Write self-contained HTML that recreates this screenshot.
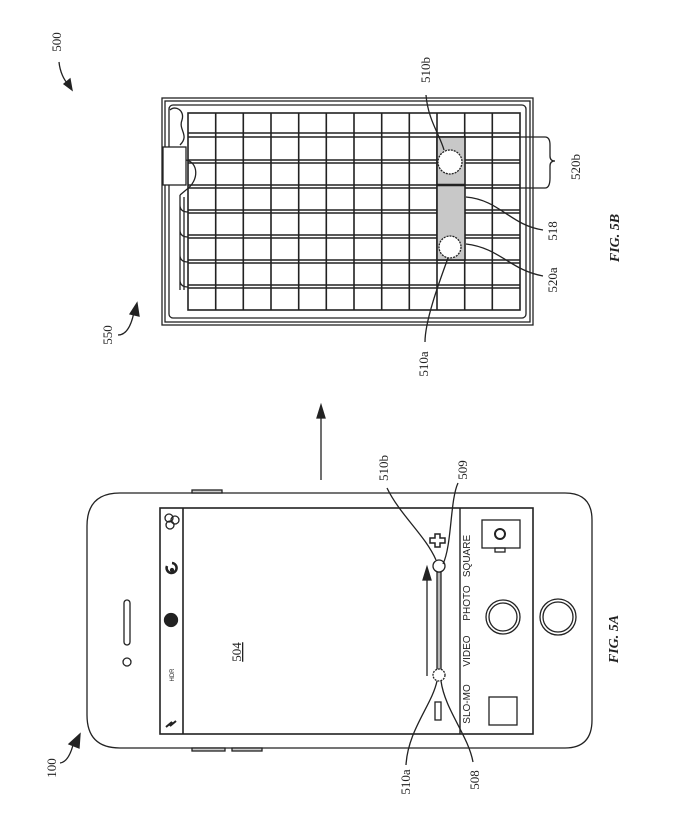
<!DOCTYPE html>
<html><head><meta charset="utf-8"><style>
html,body{margin:0;padding:0;background:#fff;}
svg{display:block;}
text{font-family:"Liberation Serif",serif;fill:#222;}
.s{font-family:"Liberation Sans",sans-serif;}
</style></head><body>
<svg width="700" height="831" viewBox="0 0 700 831" xmlns="http://www.w3.org/2000/svg" fill="none" stroke="#222" stroke-width="1.3">
<!-- FIG 5B -->
<rect x="162" y="98" width="371" height="227"/>
<rect x="165" y="101" width="365" height="221"/>
<rect x="169" y="105" width="357" height="213" rx="4"/>
<g stroke-width="1.6">
<rect x="188" y="113" width="332" height="197"/>
<line x1="215.7" y1="113" x2="215.7" y2="310"/><line x1="243.3" y1="113" x2="243.3" y2="310"/>
<line x1="271" y1="113" x2="271" y2="310"/><line x1="298.7" y1="113" x2="298.7" y2="310"/>
<line x1="326.3" y1="113" x2="326.3" y2="310"/><line x1="354" y1="113" x2="354" y2="310"/>
<line x1="381.7" y1="113" x2="381.7" y2="310"/><line x1="409.3" y1="113" x2="409.3" y2="310"/>
<line x1="437" y1="113" x2="437" y2="310"/><line x1="464.7" y1="113" x2="464.7" y2="310"/>
<line x1="492.3" y1="113" x2="492.3" y2="310"/>
<line x1="188" y1="133" x2="520" y2="133"/><line x1="188" y1="137" x2="520" y2="137"/>
<line x1="188" y1="160" x2="520" y2="160"/><line x1="188" y1="163" x2="520" y2="163"/>
<line x1="188" y1="185" x2="520" y2="185"/><line x1="188" y1="188" x2="520" y2="188"/>
<line x1="188" y1="210" x2="520" y2="210"/><line x1="188" y1="213" x2="520" y2="213"/>
<line x1="188" y1="235" x2="520" y2="235"/><line x1="188" y1="238" x2="520" y2="238"/>
<line x1="188" y1="260" x2="520" y2="260"/><line x1="188" y1="263" x2="520" y2="263"/>
<line x1="188" y1="285" x2="520" y2="285"/><line x1="188" y1="288" x2="520" y2="288"/>
</g>
<rect x="437" y="137" width="28" height="123" fill="#c8c8c8" stroke="#222" stroke-width="1.6"/>
<line x1="437" y1="185" x2="465" y2="185" stroke-width="2.5"/>
<circle cx="450" cy="162" r="12" fill="#fff" stroke-dasharray="2 1"/>
<circle cx="450" cy="247" r="11" fill="#fff" stroke-dasharray="2 1"/>
<!-- tray / connector -->
<rect x="163" y="147" width="23" height="38" fill="#fff"/>
<path d="M170 110 C175 105 185 110 182 120 C178 130 190 135 180 145" />
<path d="M186 160 C198 162 200 180 186 190 L180 195"/>
<path d="M180 195 L180 290 M180 205 Q180 212 188 212 M180 230 Q180 237 188 237 M180 255 Q180 262 188 262 M180 280 Q180 287 188 287"/>
<path d="M184 197 L184 290"/>
<!-- brace 520b -->
<path d="M465 137 L545 137 Q550 137 550 145 L550 156 Q550 161 555 161 Q550 161 550 166 L550 178 Q550 188 545 188 L465 188"/>
<!-- leaders -->
<path d="M426 95 C428 120 440 135 444 150"/>
<path d="M425 342 C425 320 440 280 448 258"/>
<path d="M466 197 C500 200 510 225 543 230"/>
<path d="M466 244 C500 248 510 270 543 276"/>
<path d="M59 62 C60 72 64 80 68 84"/><path d="M64 84 L72 90 L70 79 Z" fill="#222"/>
<path d="M118 335 C128 335 132 322 134 312"/><path d="M130 314 L137 303 L139 316 Z" fill="#222"/>
<!-- big arrow -->
<line x1="321" y1="480" x2="321" y2="416"/><path d="M317 418 L321 405 L325 418 Z" fill="#222"/>
<g stroke="none">
<text transform="translate(61,42) rotate(-90)" text-anchor="middle" font-size="13">500</text>
<text transform="translate(112,335) rotate(-90)" text-anchor="middle" font-size="13">550</text>
<text transform="translate(430,70) rotate(-90)" text-anchor="middle" font-size="13">510b</text>
<text transform="translate(428,364) rotate(-90)" text-anchor="middle" font-size="13">510a</text>
<text transform="translate(557,231) rotate(-90)" text-anchor="middle" font-size="13">518</text>
<text transform="translate(557,280) rotate(-90)" text-anchor="middle" font-size="13">520a</text>
<text transform="translate(580,167) rotate(-90)" text-anchor="middle" font-size="13">520b</text>
<text transform="translate(619,238) rotate(-90)" text-anchor="middle" font-size="14" font-style="italic" font-weight="bold">FIG. 5B</text>
</g>
<!-- FIG 5A phone -->
<path d="M120 493 L565 493 Q592 493 592 520 L592 720 Q592 748 565 748 L120 748 Q87 748 87 715 L87 526 Q87 493 120 493 Z"/>
<rect x="192" y="490" width="30" height="3" fill="#ccc"/>
<rect x="192" y="748" width="33" height="3" fill="#ccc"/>
<rect x="232" y="748" width="30" height="3" fill="#ccc"/>
<rect x="124" y="600" width="6" height="45" rx="3"/>
<circle cx="127" cy="662" r="4"/>
<rect x="160" y="508" width="373" height="226" stroke-width="1.6"/>
<line x1="183" y1="508" x2="183" y2="734" stroke-width="1.6"/>
<line x1="460" y1="508" x2="460" y2="734" stroke-width="1.4"/>
<!-- status icons -->
<circle cx="169" cy="518" r="4"/><circle cx="175" cy="520" r="4"/><circle cx="170" cy="525" r="4"/>
<path d="M167 566 A5 5 0 1 0 172 563" stroke-width="2.5"/><circle cx="172" cy="570" r="1.5" fill="#222"/>
<circle cx="171" cy="620" r="6.5" fill="#222"/>
<text transform="translate(174,675) rotate(-90)" text-anchor="middle" font-size="6" class="s" stroke="none" fill="#222">HDR</text>
<path d="M166 727 L172 722 L170 726 L176 721" stroke-width="2"/>
<!-- slider -->
<rect x="437" y="572" width="4" height="98" fill="#bbb"/>
<circle cx="439" cy="566" r="6" fill="#fff"/>
<circle cx="439" cy="675" r="6" fill="#fff" stroke-dasharray="2 1"/>
<rect x="435" y="702" width="6" height="18"/>
<path d="M435 534 h5 v4 h5 v5 h-5 v4 h-5 v-4 h-5 v-5 h5 z" stroke-width="1.5"/>
<line x1="427" y1="676" x2="427" y2="578"/><path d="M423 580 L427 567 L431 580 Z" fill="#222"/>
<!-- bottom controls -->
<rect x="482" y="520" width="38" height="28"/><rect x="495" y="548" width="10" height="4"/>
<circle cx="500" cy="534" r="5" stroke-width="2"/>
<circle cx="503" cy="617" r="17"/><circle cx="503" cy="617" r="14"/>
<circle cx="558" cy="617" r="18"/><circle cx="558" cy="617" r="15"/>
<rect x="489" y="697" width="28" height="28"/>
<!-- leaders -->
<path d="M387 488 C400 515 425 535 436 560"/>
<path d="M458 483 C450 500 452 545 443 564"/>
<path d="M406 765 C408 730 432 705 437 681"/>
<path d="M473 762 C468 735 445 710 441 681"/>
<path d="M60 763 C68 762 72 750 74 741"/><path d="M69 744 L80 734 L79 748 Z" fill="#222"/>
<g stroke="none">
<text transform="translate(470,704) rotate(-90)" text-anchor="middle" font-size="10" class="s">SLO-MO</text>
<text transform="translate(470,651) rotate(-90)" text-anchor="middle" font-size="10" class="s">VIDEO</text>
<text transform="translate(470,603) rotate(-90)" text-anchor="middle" font-size="10" class="s">PHOTO</text>
<text transform="translate(470,556) rotate(-90)" text-anchor="middle" font-size="10" class="s">SQUARE</text>
<text transform="translate(241,652) rotate(-90)" text-anchor="middle" font-size="13" text-decoration="underline">504</text>
<text transform="translate(388,468) rotate(-90)" text-anchor="middle" font-size="13">510b</text>
<text transform="translate(467,470) rotate(-90)" text-anchor="middle" font-size="13">509</text>
<text transform="translate(410,782) rotate(-90)" text-anchor="middle" font-size="13">510a</text>
<text transform="translate(479,780) rotate(-90)" text-anchor="middle" font-size="13">508</text>
<text transform="translate(56,768) rotate(-90)" text-anchor="middle" font-size="13">100</text>
<text transform="translate(618,639) rotate(-90)" text-anchor="middle" font-size="14" font-style="italic" font-weight="bold">FIG. 5A</text>
</g>
</svg>
</body></html>
